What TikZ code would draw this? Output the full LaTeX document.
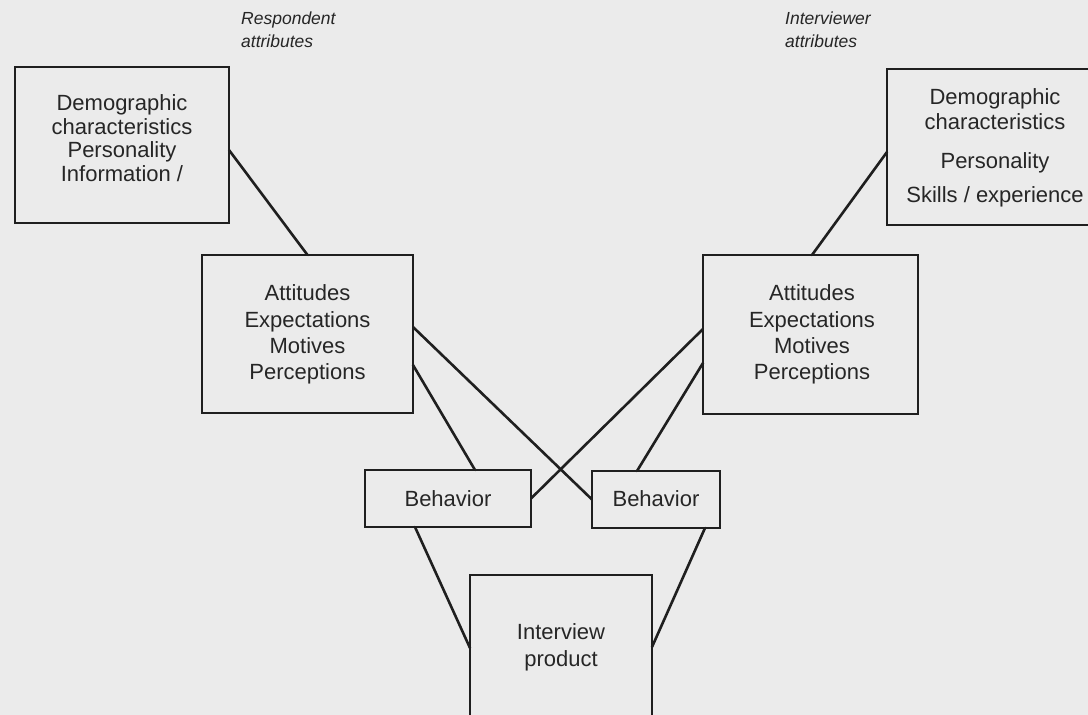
\documentclass[tikz,border=0pt]{standalone}
\usepackage{fontspec}
\setmainfont{Liberation Sans}
\definecolor{paper}{HTML}{EBEBEB}
\definecolor{ink}{HTML}{262626}
\definecolor{wire}{HTML}{1F1F1F}
\tikzset{
  box/.style={draw=wire, line width=1.8pt, inner sep=0pt, outer sep=0pt},
  label/.style={text=ink, align=center, inner sep=0pt, font=\fontsize{22}{23.5}\selectfont},
  tag/.style={text=ink, align=left, inner sep=0pt, anchor=north west, font=\fontsize{17.5}{23}\selectfont\itshape},
  link/.style={draw=wire, line width=2.6pt, line cap=round}
}
\begin{document}
\begin{tikzpicture}[x=1pt, y=-1pt]
  % page and paper tone
  \fill[paper] (0,0) rectangle (1088,715);
  \useasboundingbox (0,0) rectangle (1088,715);

  % group headings
  \node[tag] (resp) at (241,12) {Respondent\\attributes};
  \node[tag] (intv) at (785,12) {Interviewer\\attributes};

  % boxes
  \node[box, minimum width=214pt, minimum height=156pt] (rd) at (122,145) {};
  \node[box, minimum width=211pt, minimum height=158pt] (la) at (307.5,334) {};
  \node[box, minimum width=216pt, minimum height=156pt] (id) at (995,147) {};
  \node[box, minimum width=215pt, minimum height=159pt] (ra) at (810.5,334.5) {};
  \node[box, minimum width=166pt, minimum height=57pt] (bl) at (448,498.5) {};
  \node[box, minimum width=128pt, minimum height=57pt] (br) at (656,499.5) {};
  \node[box, minimum width=182pt, minimum height=165pt] (ip) at (561,657.5) {};

  % box texts
  \node[label] (rdt) at (122,138) {Demographic\\characteristics\\Personality\\Information /};
  \node[label, font=\fontsize{22}{24.5}\selectfont] (idt) at (995,148) {Demographic\\characteristics\\[15pt]Personality\\[9.5pt]Skills / experience};
  \node[label, font=\fontsize{22}{26.3}\selectfont] (lat) at (307.5,334.5) {Attitudes\\Expectations\\Motives\\Perceptions};
  \node[label, font=\fontsize{22}{26.3}\selectfont] (rat) at (812,334.5) {Attitudes\\Expectations\\Motives\\Perceptions};
  \node[label] (blt) at (448,499) {Behavior};
  \node[label] (brt) at (656,499) {Behavior};
  \node[label, font=\fontsize{22}{27}\selectfont] (ipt) at (561,647) {Interview\\product};

  % connectors
  \draw[link] ([yshift=-83pt]rd.north east) -- (la.north);
  \draw[link] ([yshift=-83pt]id.north west) -- ([xshift=1.5pt]ra.north);
  \draw[link] ([yshift=-72pt]la.north east) -- (br.west);
  \draw[link] ([yshift=-110pt]la.north east) -- ([xshift=110pt]bl.north west);
  \draw[link] ([yshift=-74pt]ra.north west) -- (bl.east);
  \draw[link] ([yshift=-108pt]ra.north west) -- ([xshift=45pt]br.north west);
  \draw[link] ([xshift=50pt]bl.south west) -- ([yshift=-73pt]ip.north west);
  \draw[link] ([xshift=113pt]br.south west) -- ([yshift=-72pt]ip.north east);
\end{tikzpicture}
\end{document}
